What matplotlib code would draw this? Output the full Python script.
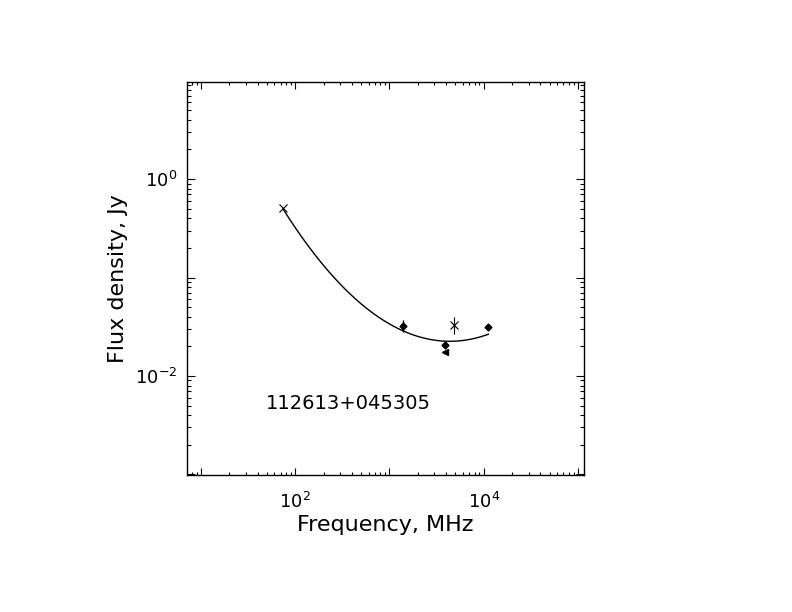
import numpy as np
import matplotlib
matplotlib.use("Agg")
import matplotlib.pyplot as plt
from matplotlib.ticker import LogLocator, FuncFormatter, NullFormatter

# ---- data ----
freq_x = [74.0, 4850.0]            # 'x' markers (MHz)
flux_x = [0.504, 0.033]            # Jy
err_x = [0.0, 0.0065]

freq_d = [1400.0, 3900.0, 11200.0]  # filled diamonds
flux_d = [0.0322, 0.0208, 0.0317]
err_d = [0.0045, 0.0012, 0.0018]

freq_t = [3900.0]                   # filled triangle
flux_t = [0.0177]

# fitted curve: log10(S) = a + b*log10(f) + c*log10(f)^2
fit_coef = [4.035, -3.122, 0.4288]
fit_range = [74.0, 11200.0]

source_name = "112613+045305"
x_label_ticks = [1e2, 1e4]
y_label_ticks = [1e0, 1e-2]

fig = plt.figure(figsize=(7.92, 6.12), dpi=100)
ax = fig.add_axes([0.2357, 0.2239, 0.5017, 0.6426])
ax.set_xscale("log")
ax.set_yscale("log")
ax.set_xlim(10**0.848, 10**5.064)
ax.set_ylim(10**-3.005, 10**0.988)

L = np.linspace(np.log10(fit_range[0]), np.log10(fit_range[1]), 300)
S = fit_coef[0] + fit_coef[1] * L + fit_coef[2] * L**2
ax.plot(10**L, 10**S, color="black", lw=1.0)

ax.errorbar(freq_x, flux_x, yerr=err_x, fmt="x", color="black", ms=6,
            mew=0.8, elinewidth=0.8, capsize=0)
ax.errorbar(freq_d, flux_d, yerr=err_d, fmt="D", color="black", ms=3.5,
            elinewidth=1.0, capsize=0)
ax.plot(freq_t, flux_t, "<", color="black", ms=4.5)

ax.text(0.2, 0.183, source_name, transform=ax.transAxes, fontsize=14,
        ha="left", va="center")

def fmt(v, pos, allowed):
    for a in allowed:
        if abs(np.log10(v) - np.log10(a)) < 1e-6:
            return r"$10^{%d}$" % int(round(np.log10(a)))
    return ""

ax.xaxis.set_major_locator(LogLocator(base=10, numticks=20))
ax.yaxis.set_major_locator(LogLocator(base=10, numticks=20))
ax.xaxis.set_minor_locator(LogLocator(base=10, subs=np.arange(2, 10), numticks=20))
ax.yaxis.set_minor_locator(LogLocator(base=10, subs=np.arange(2, 10), numticks=20))
ax.xaxis.set_major_formatter(FuncFormatter(lambda v, p: fmt(v, p, x_label_ticks)))
ax.yaxis.set_major_formatter(FuncFormatter(lambda v, p: fmt(v, p, y_label_ticks)))
ax.xaxis.set_minor_formatter(NullFormatter())
ax.yaxis.set_minor_formatter(NullFormatter())

ax.tick_params(which="both", direction="in", top=True, right=True,
               labelsize=13, width=0.8)
ax.tick_params(axis="x", which="major", length=5, pad=12)
ax.tick_params(axis="x", which="minor", length=2.5)
ax.tick_params(axis="y", which="major", length=6, pad=7)
ax.tick_params(axis="y", which="minor", length=3)
for sp in ax.spines.values():
    sp.set_linewidth(1.0)

ax.set_xlabel("Frequency, MHz", fontsize=16, labelpad=2)
ax.set_ylabel("Flux density, Jy", fontsize=16, labelpad=5)

fig.savefig("out.png", dpi=100)
